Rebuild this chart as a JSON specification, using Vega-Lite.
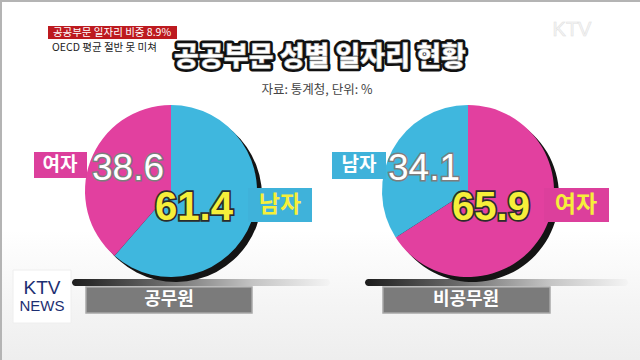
{
  "$schema": "https://vega.github.io/schema/vega-lite/v6.json",
  "width": 640,
  "height": 360,
  "autosize": {"type": "none"},
  "padding": 0,
  "background": "#ffffff",
  "view": {"stroke": null},
  "config": {"font": "Noto Sans CJK KR"},
  "datasets": {
    "slices": [
      {"pie": "공무원", "x": 171, "y": 191, "gender": "남자", "value": 61.4, "order": 1, "lx": 194, "ly": 220},
      {"pie": "공무원", "x": 171, "y": 191, "gender": "여자", "value": 38.6, "order": 2, "lx": 128, "ly": 180},
      {"pie": "비공무원", "x": 468, "y": 191, "gender": "여자", "value": 65.9, "order": 1, "lx": 491, "ly": 220},
      {"pie": "비공무원", "x": 468, "y": 191, "gender": "남자", "value": 34.1, "order": 2, "lx": 424, "ly": 180}
    ],
    "boxes": [
      {"kind": "frame", "x": 0, "x2": 640, "y": 0, "y2": 2},
      {"kind": "frame", "x": 0, "x2": 2, "y": 0, "y2": 360},
      {"kind": "haze", "x": 0, "x2": 640, "y": 230, "y2": 360},
      {"kind": "shadow", "x": 72, "x2": 330, "y": 279, "y2": 286},
      {"kind": "shadow", "x": 365, "x2": 628, "y": 279, "y2": 286},
      {"kind": "bar", "x": 86, "x2": 252, "y": 287, "y2": 313},
      {"kind": "bar", "x": 383, "x2": 550, "y": 287, "y2": 313},
      {"kind": "head", "x": 48, "x2": 177, "y": 26, "y2": 39},
      {"kind": "logo", "x": 13, "x2": 71, "y": 270, "y2": 323},
      {"kind": "여자", "x": 34, "x2": 87, "y": 152, "y2": 178},
      {"kind": "남자", "x": 248, "x2": 312, "y": 188, "y2": 222},
      {"kind": "남자", "x": 332, "x2": 386, "y": 152, "y2": 179},
      {"kind": "여자", "x": 544, "x2": 609, "y": 188, "y2": 222}
    ],
    "texts": [
      {"kind": "title", "x": 320, "y": 58, "text": "공공부문 성별 일자리 현황"},
      {"kind": "sub", "x": 317, "y": 90, "text": "자료: 통계청, 단위: %"},
      {"kind": "head", "x": 112, "y": 32.5, "text": "공공부문 일자리 비중 8.9%"},
      {"kind": "head2", "x": 52, "y": 48, "text": "OECD 평균 절반 못 미쳐"},
      {"kind": "tagw", "x": 60, "y": 165, "text": "여자"},
      {"kind": "tagw", "x": 359, "y": 165, "text": "남자"},
      {"kind": "tagy", "x": 280, "y": 205, "text": "남자"},
      {"kind": "tagy", "x": 576, "y": 205, "text": "여자"},
      {"kind": "bar", "x": 169, "y": 300, "text": "공무원"},
      {"kind": "bar", "x": 466, "y": 300, "text": "비공무원"},
      {"kind": "ktv", "x": 42, "y": 288, "text": "KTV"},
      {"kind": "news", "x": 42, "y": 306, "text": "NEWS"},
      {"kind": "mark", "x": 572, "y": 30, "text": "KTV"}
    ]
  },
  "encoding": {
    "x": {"field": "x", "type": "quantitative", "axis": null, "scale": {"domain": [0, 640], "nice": false, "zero": false}},
    "y": {"field": "y", "type": "quantitative", "axis": null, "scale": {"domain": [0, 360], "nice": false, "zero": false, "reverse": true}}
  },
  "layer": [
    {
      "data": {"name": "boxes"},
      "transform": [{"filter": "datum.kind === 'haze'"}],
      "mark": {"type": "rect", "fill": {"gradient": "linear", "x1": 0, "y1": 0, "x2": 0, "y2": 1, "stops": [{"offset": 0, "color": "#ffffff"}, {"offset": 0.6, "color": "#f4f4f4"}, {"offset": 1, "color": "#eeeeee"}]}},
      "encoding": {"x2": {"field": "x2"}, "y2": {"field": "y2"}}
    },
    {
      "data": {"name": "boxes"},
      "transform": [{"filter": "datum.kind === 'frame'"}],
      "mark": {"type": "rect", "color": "#b4b4b4"},
      "encoding": {"x2": {"field": "x2"}, "y2": {"field": "y2"}}
    },
    {
      "data": {"name": "boxes"},
      "transform": [{"filter": "datum.kind === 'shadow'"}],
      "mark": {"type": "rect", "cornerRadius": 4, "fill": {"gradient": "linear", "x1": 0, "y1": 0, "x2": 1, "y2": 0, "stops": [{"offset": 0, "color": "#1c1c1c"}, {"offset": 0.35, "color": "#6a6a6a"}, {"offset": 0.7, "color": "#c4c4c4"}, {"offset": 1, "color": "#f4f4f4"}]}},
      "encoding": {"x2": {"field": "x2"}, "y2": {"field": "y2"}}
    },
    {
      "data": {"name": "slices"},
      "transform": [{"stack": "value", "groupby": ["pie"], "sort": [{"field": "order"}], "as": ["v0", "v1"]}],
      "mark": {"type": "arc", "outerRadius": 86, "color": "#141414", "xOffset": 5, "yOffset": 5},
      "encoding": {
        "theta": {"field": "v0", "type": "quantitative", "scale": {"domain": [0, 100]}},
        "theta2": {"field": "v1"}
      }
    },
    {
      "data": {"name": "slices"},
      "transform": [{"stack": "value", "groupby": ["pie"], "sort": [{"field": "order"}], "as": ["v0", "v1"]}],
      "mark": {"type": "arc", "outerRadius": 86},
      "encoding": {
        "theta": {"field": "v0", "type": "quantitative", "scale": {"domain": [0, 100]}},
        "theta2": {"field": "v1"},
        "color": {"field": "gender", "type": "nominal", "legend": null, "scale": {"domain": ["남자", "여자"], "range": ["#3fb7de", "#e2409f"]}}
      }
    },
    {
      "data": {"name": "boxes"},
      "transform": [{"filter": "datum.kind === '남자'"}],
      "mark": {"type": "rect", "color": "#3fb2da"},
      "encoding": {"x2": {"field": "x2"}, "y2": {"field": "y2"}}
    },
    {
      "data": {"name": "boxes"},
      "transform": [{"filter": "datum.kind === '여자'"}],
      "mark": {"type": "rect", "color": "#dc3f9c"},
      "encoding": {"x2": {"field": "x2"}, "y2": {"field": "y2"}}
    },
    {
      "data": {"name": "boxes"},
      "transform": [{"filter": "datum.kind === 'bar'"}],
      "mark": {"type": "rect", "color": "#7b7b7b", "stroke": "#a8a8a8", "strokeWidth": 1.5},
      "encoding": {"x2": {"field": "x2"}, "y2": {"field": "y2"}}
    },
    {
      "data": {"name": "boxes"},
      "transform": [{"filter": "datum.kind === 'head'"}],
      "mark": {"type": "rect", "color": "#bd1a1f"},
      "encoding": {"x2": {"field": "x2"}, "y2": {"field": "y2"}}
    },
    {
      "data": {"name": "boxes"},
      "transform": [{"filter": "datum.kind === 'logo'"}],
      "mark": {"type": "rect", "color": "#ffffff", "stroke": "#eeeeee"},
      "encoding": {"x2": {"field": "x2"}, "y2": {"field": "y2"}}
    },
    {
      "data": {"name": "slices"},
      "transform": [{"filter": "datum.order === 2"}],
      "mark": {"type": "text", "font": "Liberation Sans", "fontSize": 37, "align": "center", "baseline": "alphabetic", "fill": "#ffffff", "stroke": "#7d7d7d", "strokeWidth": 3},
      "encoding": {"x": {"field": "lx"}, "y": {"field": "ly"}, "text": {"field": "value", "type": "quantitative", "format": ".1f"}}
    },
    {
      "data": {"name": "slices"},
      "transform": [{"filter": "datum.order === 2"}],
      "mark": {"type": "text", "font": "Liberation Sans", "fontSize": 37, "align": "center", "baseline": "alphabetic", "fill": "#ffffff"},
      "encoding": {"x": {"field": "lx"}, "y": {"field": "ly"}, "text": {"field": "value", "type": "quantitative", "format": ".1f"}}
    },
    {
      "data": {"name": "slices"},
      "transform": [{"filter": "datum.order === 1"}],
      "mark": {"type": "text", "font": "Liberation Sans", "fontWeight": "bold", "fontSize": 40, "align": "center", "baseline": "alphabetic", "fill": "#f6ef3a", "stroke": "#2c2c2c", "strokeWidth": 3.5},
      "encoding": {"x": {"field": "lx"}, "y": {"field": "ly"}, "text": {"field": "value", "type": "quantitative", "format": ".1f"}}
    },
    {
      "data": {"name": "slices"},
      "transform": [{"filter": "datum.order === 1"}],
      "mark": {"type": "text", "font": "Liberation Sans", "fontWeight": "bold", "fontSize": 40, "align": "center", "baseline": "alphabetic", "fill": "#f6ef3a"},
      "encoding": {"x": {"field": "lx"}, "y": {"field": "ly"}, "text": {"field": "value", "type": "quantitative", "format": ".1f"}}
    },
    {
      "data": {"name": "texts"},
      "transform": [{"filter": "datum.kind === 'title'"}],
      "mark": {"type": "text", "fontSize": 27, "fontWeight": 900, "align": "center", "baseline": "middle", "fill": "#ffffff", "stroke": "#111111", "strokeWidth": 6, "strokeJoin": "round"},
      "encoding": {"text": {"field": "text"}}
    },
    {
      "data": {"name": "texts"},
      "transform": [{"filter": "datum.kind === 'title'"}],
      "mark": {"type": "text", "fontSize": 27, "fontWeight": 900, "align": "center", "baseline": "middle", "fill": "#ffffff", "stroke": "#bdbdbd", "strokeWidth": 0.6},
      "encoding": {"text": {"field": "text"}}
    },
    {
      "data": {"name": "texts"},
      "transform": [{"filter": "datum.kind === 'sub'"}],
      "mark": {"type": "text", "fontSize": 12.5, "align": "center", "baseline": "middle", "fill": "#444444"},
      "encoding": {"text": {"field": "text"}}
    },
    {
      "data": {"name": "texts"},
      "transform": [{"filter": "datum.kind === 'head'"}],
      "mark": {"type": "text", "fontSize": 10.5, "align": "center", "baseline": "middle", "fill": "#ffffff"},
      "encoding": {"text": {"field": "text"}}
    },
    {
      "data": {"name": "texts"},
      "transform": [{"filter": "datum.kind === 'head2'"}],
      "mark": {"type": "text", "fontSize": 10.5, "align": "left", "baseline": "middle", "fill": "#222222"},
      "encoding": {"text": {"field": "text"}}
    },
    {
      "data": {"name": "texts"},
      "transform": [{"filter": "datum.kind === 'tagw'"}],
      "mark": {"type": "text", "fontSize": 19, "fontWeight": "bold", "align": "center", "baseline": "middle", "fill": "#ffffff"},
      "encoding": {"text": {"field": "text"}}
    },
    {
      "data": {"name": "texts"},
      "transform": [{"filter": "datum.kind === 'tagy'"}],
      "mark": {"type": "text", "fontSize": 23, "fontWeight": "bold", "align": "center", "baseline": "middle", "fill": "#f6ef3a"},
      "encoding": {"text": {"field": "text"}}
    },
    {
      "data": {"name": "texts"},
      "transform": [{"filter": "datum.kind === 'bar'"}],
      "mark": {"type": "text", "fontSize": 18, "fontWeight": "bold", "align": "center", "baseline": "middle", "fill": "#ffffff"},
      "encoding": {"text": {"field": "text"}}
    },
    {
      "data": {"name": "texts"},
      "transform": [{"filter": "datum.kind === 'ktv'"}],
      "mark": {"type": "text", "font": "Liberation Sans", "fontSize": 19, "align": "center", "baseline": "middle", "fill": "#1d2f72"},
      "encoding": {"text": {"field": "text"}}
    },
    {
      "data": {"name": "texts"},
      "transform": [{"filter": "datum.kind === 'news'"}],
      "mark": {"type": "text", "font": "Liberation Sans", "fontSize": 15, "align": "center", "baseline": "middle", "fill": "#1d2f72"},
      "encoding": {"text": {"field": "text"}}
    },
    {
      "data": {"name": "texts"},
      "transform": [{"filter": "datum.kind === 'mark'"}],
      "mark": {"type": "text", "font": "Liberation Sans", "fontSize": 20, "align": "center", "baseline": "middle", "fill": "#f6f6f6", "stroke": "#e2e2e2", "strokeWidth": 0.6},
      "encoding": {"text": {"field": "text"}}
    }
  ]
}
